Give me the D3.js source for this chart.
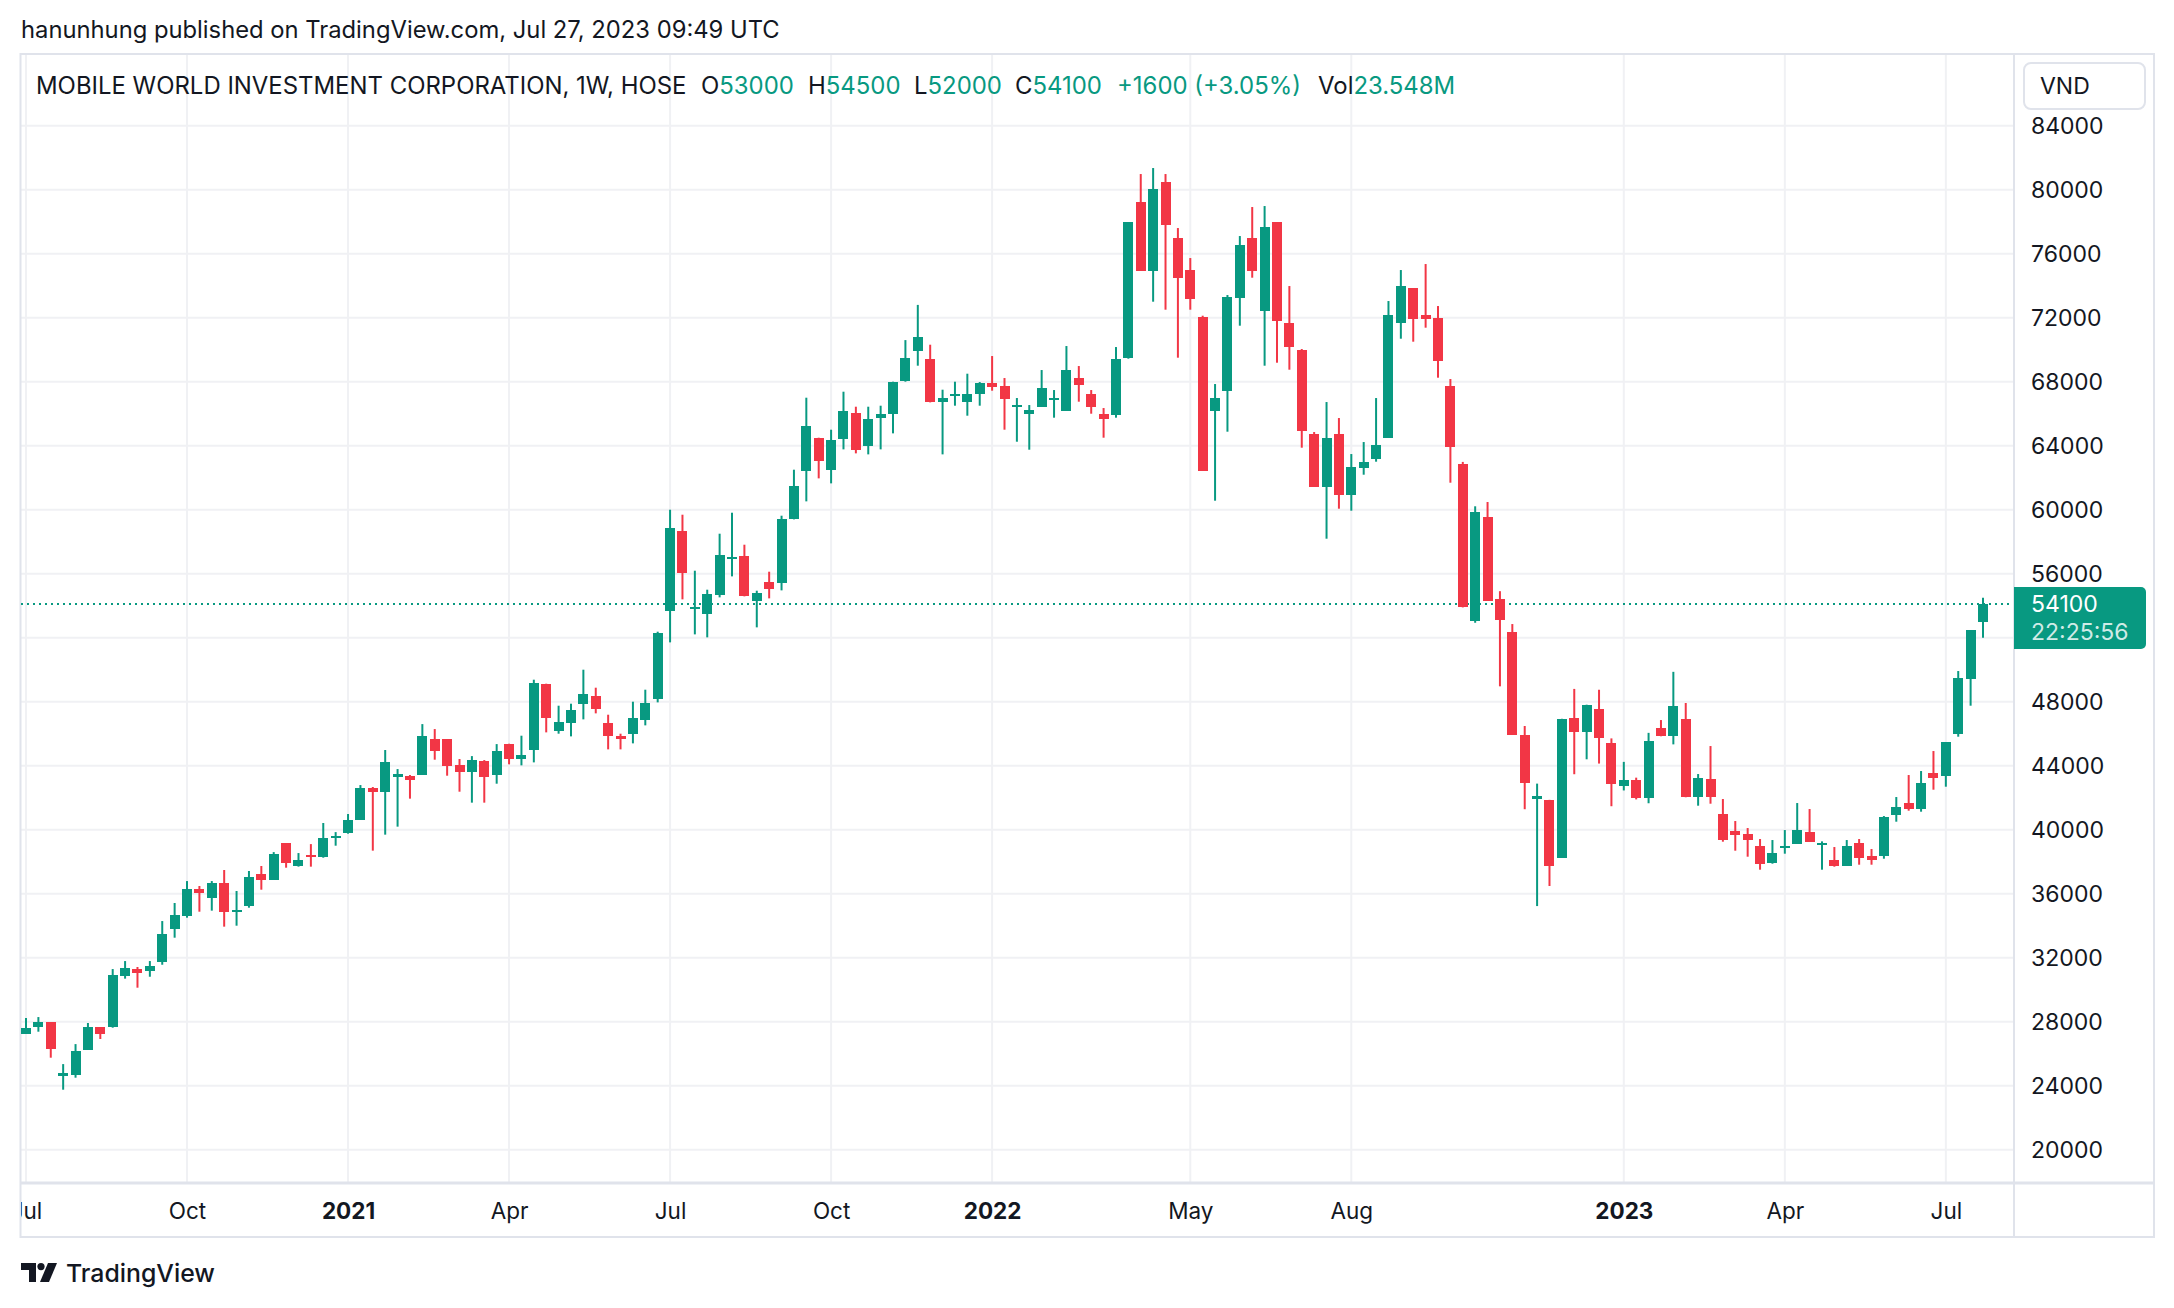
<!DOCTYPE html>
<html><head><meta charset="utf-8">
<script src="https://cdn.jsdelivr.net/npm/d3@7"></script>
<style>html,body{margin:0;padding:0;background:#fff;} svg{display:block;font-family:Inter,"Noto Sans",Roboto,sans-serif;}</style>
</head><body><div id="chart"></div>
<script>
// ---- DATA (weekly OHLC, MWG / HOSE) ----
const openP = [27250,27690,27980,24625,24690,26250,27670,27690,30875,31290,31190,31750,33810,34625,36290,35750,36670,34875,35250,37230,
36875,39170,37750,38400,38310,39500,39810,40625,42600,42375,43310,43350,43440,45670,45670,44040,43625,44290,43440,45375,
44396,44958,49125,46146,46646,47833,48375,46687,45875,45958,46833,48146,53646,58687,53792,53458,54646,56917,57125,54271,
55500,55396,59396,62396,64500,62458,64396,66062,63958,65708,65958,68062,69937,69437,66708,67167,66708,67250,67917,67729,
66437,66000,66437,66875,66187,68229,67229,65979,65937,69500,79229,74937,80479,76979,74979,72062,66187,67437,73250,76979,
72437,77979,71667,69979,64729,61437,64729,60937,62625,63187,64500,71687,73854,72167,71979,67729,62853,53013,59520,54400,
52347,45920,41920,41867,38240,46987,46080,47547,45440,42720,43120,41973,46373,45840,46933,42062,43167,40979,39917,39729,
38979,37937,38896,39125,39854,39083,38104,37750,39167,38354,38375,40937,41667,41312,43542,43375,46000,49437,53000];
const highP = [28230,28290,27980,25350,26600,27920,27670,31290,31790,31420,31790,34290,35420,36790,36480,36790,37480,36170,37420,37730,
38600,39170,38540,39100,40420,39850,40980,42790,42670,44980,43790,43420,46600,46290,45670,44420,44600,44350,45350,45375,
45875,49375,49125,47750,47875,50000,48875,47187,46000,48000,48750,52375,60000,59687,56187,55000,58500,59812,57812,54937,
56125,59625,62500,67000,64500,65000,67375,66437,66437,66500,68000,70600,72800,70312,67500,68000,68500,67979,69604,68229,
66979,66542,68729,67479,70229,68979,67479,66354,70167,77979,80979,81354,80979,77604,75729,72125,67854,73417,77104,78917,
78979,77979,73979,70042,64854,66729,65729,63479,64229,66979,73042,74979,73854,75354,72729,68167,62987,60213,60480,54907,
52853,46480,42880,41867,46933,48800,47813,48747,45707,44240,43253,46053,46853,49867,47920,43479,45229,41917,40542,40104,
39417,39354,39979,41667,41292,39271,38917,39354,39417,38792,40854,42042,43417,43667,44917,45479,49917,52479,54500];
const lowP = [27250,27375,25750,23750,24500,26250,26920,27625,30690,30125,30810,31560,33250,34500,34875,34940,33940,34000,35125,36250,
36875,37625,37690,37690,38250,39000,39750,40625,38690,39690,40190,41940,43440,44375,43375,42375,41690,41690,42875,44083,
44021,44208,46083,46000,45833,46896,47271,45021,45021,45396,46521,47958,51708,54396,52208,52021,54521,55833,54583,52646,
54458,54958,59396,60521,61958,61646,63771,63521,63458,63771,64771,68000,69000,66708,63458,66500,65875,66500,67437,65000,
64250,63750,66437,65750,66187,66750,66000,64500,65750,69437,74937,73000,72500,69500,72500,62437,60562,64875,71500,74500,
69000,69187,68750,63875,61437,58187,60062,59937,62187,63000,64500,70687,70500,71375,68250,61687,53893,52933,54320,48960,
45947,41280,35227,36480,38240,43467,44400,44133,41467,42453,41893,41653,45840,45333,42027,41500,41625,39250,38687,38312,
37500,37875,38500,39125,39250,37500,37687,37750,37812,37812,38187,40500,41187,41125,42500,42687,45812,47750,52000];
const closeP = [27600,27980,26310,24770,26170,27670,27250,30920,31350,31060,31480,33480,34670,36290,36060,36670,34875,34980,37040,36875,
38480,37940,38100,38310,39480,39580,40600,42600,42375,44230,43480,43125,45850,44940,44000,43625,44350,43310,44920,44396,
44687,49187,46958,46750,47500,48500,47521,45833,45646,47000,47937,52312,58875,56021,53937,54750,57187,57021,54583,54812,
55021,59437,61500,65250,63021,64375,66187,63708,65687,66000,68000,69500,70800,66708,67000,67250,67250,67917,67687,66937,
66542,66229,67604,66979,68729,67812,66437,65687,69417,77979,74937,80042,77812,74500,73187,62437,66979,73292,76542,74937,
77667,71812,70187,64937,61437,64479,60937,62667,62979,64042,72167,73979,71937,71937,69312,63937,53893,59840,54320,53120,
45947,42907,42107,37707,46933,46080,47813,45707,42827,43120,41973,45547,45840,47733,42027,43229,42062,39375,39687,39375,
37875,38542,39000,39979,39250,39187,37750,38979,38250,38125,40792,41417,41312,42917,43250,45479,49479,52479,54100];

const firstWeek = "2020-07-06";          // Monday of first bar
const closedWeeks = ["2022-01-31"];      // Tet holiday: no bar
const priceTicks = [20000,24000,28000,32000,36000,40000,44000,48000,52000,56000,60000,64000,68000,72000,76000,80000,84000];
const timeTicks = [["2020-07-06","Jul",false],["2020-10-05","Oct",false],["2021-01-04","2021",true],["2021-04-05","Apr",false],
["2021-07-05","Jul",false],["2021-10-04","Oct",false],["2022-01-03","2022",true],["2022-05-02","May",false],["2022-08-01","Aug",false],
["2023-01-02","2023",true],["2023-04-03","Apr",false],["2023-07-03","Jul",false]];
const lastPrice = 54100;
const countdown = "22:25:56";
const publishText = "hanunhung published on TradingView.com, Jul 27, 2023 09:49 UTC";
const symbolText = "MOBILE WORLD INVESTMENT CORPORATION, 1W, HOSE";
const legendItems = [["O","53000"],["H","54500"],["L","52000"],["C","54100"],["","+1600 (+3.05%)"],["Vol","23.548M"]];
const currency = "VND";

// ---- build week dates ----
const fmt = d3.timeFormat("%Y-%m-%d");
const dates = [];
{
  let d = d3.timeParse("%Y-%m-%d")(firstWeek);
  while (dates.length < openP.length) {
    if (!closedWeeks.includes(fmt(d))) dates.push(fmt(d));
    d = d3.timeWeek.offset(d, 1);
  }
}
const bars = openP.map((o,i)=>({i, date:dates[i], o, h:highP[i], l:lowP[i], c:closeP[i]}));

// ---- layout ----
const W=2174, H=1308;
const L=21, R=2013, T=55, B=1182, FR=2154, FB=1237;
const GREEN="#089981", RED="#F23645", TXT="#131722", GRID="#f0f1f4", BORDER="#e0e3eb";

const svg = d3.select("#chart").append("svg").attr("width",W).attr("height",H);
svg.append("rect").attr("width",W).attr("height",H).attr("fill","#fff");

const x = d3.scaleLinear().domain([0, bars.length-1]).range([26, 1983]);
const y = d3.scaleLinear().domain([20000, 84000]).range([1149.7, 125.7]);

const tickIdx = timeTicks.map(t=>dates.indexOf(t[0]));

// grid
svg.append("g").selectAll("line").data(priceTicks).join("line")
  .attr("x1",L).attr("x2",R).attr("y1",d=>y(d)).attr("y2",d=>y(d))
  .attr("stroke",GRID).attr("stroke-width",2);
svg.append("g").selectAll("line").data(tickIdx).join("line")
  .attr("x1",d=>x(d)).attr("x2",d=>x(d)).attr("y1",T).attr("y2",B)
  .attr("stroke",GRID).attr("stroke-width",2);

// frame
svg.append("rect").attr("x",L-0.5).attr("y",T-1).attr("width",FR-L+0.5).attr("height",FB-T+1)
  .attr("fill","none").attr("stroke",BORDER).attr("stroke-width",2);
svg.append("line").attr("x1",R+1).attr("x2",R+1).attr("y1",T).attr("y2",FB).attr("stroke",BORDER).attr("stroke-width",2);
svg.append("line").attr("x1",L).attr("x2",FR).attr("y1",B+1).attr("y2",B+1).attr("stroke",BORDER).attr("stroke-width",3);

// last price dotted line
svg.append("line").attr("x1",L).attr("x2",R).attr("y1",y(lastPrice)).attr("y2",y(lastPrice))
  .attr("stroke",GREEN).attr("stroke-width",2).attr("stroke-dasharray","2,4");

// candles
const cg = svg.append("g");
cg.selectAll("line").data(bars).join("line")
  .attr("x1",d=>x(d.i)).attr("x2",d=>x(d.i)).attr("y1",d=>y(d.h)).attr("y2",d=>y(d.l))
  .attr("stroke",d=>d.c>=d.o?GREEN:RED).attr("stroke-width",2);
cg.selectAll("rect").data(bars).join("rect")
  .attr("x",d=>x(d.i)-5).attr("width",10)
  .attr("y",d=>y(Math.max(d.o,d.c)))
  .attr("height",d=>Math.max(2, Math.abs(y(d.o)-y(d.c))))
  .attr("fill",d=>d.c>=d.o?GREEN:RED).attr("shape-rendering","crispEdges");

// price axis
const labelBoxTop = 587, labelBoxBot = 649;
const ya = svg.append("g").attr("transform",`translate(${R},0)`)
  .call(d3.axisRight(y).tickValues(priceTicks).tickSize(0).tickPadding(18).tickFormat(d3.format("d")));
ya.select(".domain").remove();
ya.selectAll("text").attr("font-size",23).attr("fill",TXT).attr("font-family","Inter, sans-serif")
  .attr("display",d=> (y(d)>labelBoxTop-12 && y(d)<labelBoxBot+12) ? "none" : null);

// last price label
const lp = svg.append("g");
lp.append("path").attr("d",`M${R+1},${labelBoxTop} H${2141} a5,5 0 0 1 5,5 V${labelBoxBot-5} a5,5 0 0 1 -5,5 H${R+1} Z`).attr("fill",GREEN);
lp.append("text").attr("x",2031).attr("y",612).attr("font-size",23).attr("fill","#fff").text(d3.format("d")(lastPrice));
lp.append("text").attr("x",2031).attr("y",640).attr("font-size",23).attr("fill","#fff").attr("fill-opacity",0.82).text(countdown);

// time axis (clipped)
svg.append("clipPath").attr("id","tclip").append("rect").attr("x",L).attr("y",B).attr("width",R-L).attr("height",FB-B);
const xa = svg.append("g").attr("clip-path","url(#tclip)").append("g").attr("transform",`translate(0,${B})`)
  .call(d3.axisBottom(x).tickValues(tickIdx).tickSize(0).tickPadding(21).tickFormat((d,k)=>timeTicks[k][1]));
xa.select(".domain").remove();
xa.selectAll("text").attr("font-size",22.5).attr("fill",TXT).attr("font-family","Inter, sans-serif")
  .attr("font-weight",(d,k)=>timeTicks[k][2]?700:400);

// currency box
svg.append("rect").attr("x",2024).attr("y",63).attr("width",121).attr("height",46).attr("rx",7)
  .attr("fill","#fff").attr("stroke",BORDER).attr("stroke-width",2);
svg.append("text").attr("x",2040).attr("y",94).attr("font-size",23).attr("fill",TXT).text(currency);

// header text
function fitWidth(sel, target){
  const w = sel.node().getComputedTextLength();
  const fs = parseFloat(sel.attr("font-size"));
  sel.attr("font-size", fs*target/w);
  return fs*target/w;
}
const pub = svg.append("text").attr("x",21).attr("y",38).attr("font-size",22).attr("fill",TXT).text(publishText);
fitWidth(pub, 759);

const sym = svg.append("text").attr("x",36).attr("y",94).attr("font-size",22).attr("fill",TXT).text(symbolText);
const fs = fitWidth(sym, 651);
const itemX = [701, 808, 914, 1015, 1117, 1318];
legendItems.forEach(([lab,val],k)=>{
  let cx = itemX[k];
  if(lab){
    const t = svg.append("text").attr("x",cx).attr("y",94).attr("font-size",fs).attr("fill",TXT).text(lab);
    cx += t.node().getComputedTextLength();
  }
  svg.append("text").attr("x",cx).attr("y",94).attr("font-size",fs).attr("fill",GREEN).text(val);
});

// TradingView logo
const logo = svg.append("g").attr("transform","translate(21,1263)").attr("fill",TXT);
logo.append("path").attr("d","M0 0 H15 V19 H8 V7 H0 Z");
logo.append("circle").attr("cx",20).attr("cy",3.6).attr("r",3.6);
logo.append("path").attr("d","M27 0 H36 L28 19 H19 Z");
const tv = svg.append("text").attr("x",66).attr("y",1282).attr("font-size",25).attr("fill",TXT).attr("font-weight",500).text("TradingView");
fitWidth(tv, 149);
</script>
</body></html>
